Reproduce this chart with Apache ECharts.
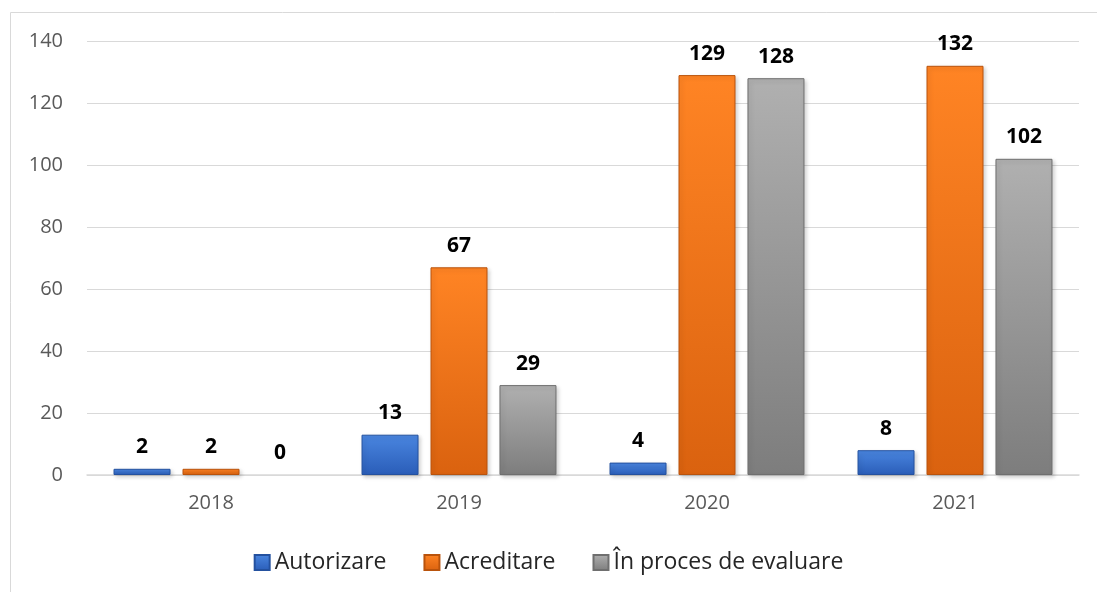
<!DOCTYPE html>
<html>
<head>
<meta charset="utf-8">
<script src="https://cdn.jsdelivr.net/npm/echarts@6/dist/echarts.min.js"></script>
<style>
  html, body { margin: 0; padding: 0; background: #fff; }
  #chart { width: 1097px; height: 592px; }
</style>
</head>
<body>
<div id="chart"></div>
<script>
const years = ['2018', '2019', '2020', '2021']
const autorizare = [2, 13, 4, 8]
const acreditare = [2, 67, 129, 132]
const inEvaluare = [0, 29, 128, 102]
const seriesNames = ['Autorizare', 'Acreditare', 'În proces de evaluare']

// bevel-like look: lighter top, darker bottom
function fill (top, bottom) {
  return new echarts.graphic.LinearGradient(0, 0, 0, 1, [
    { offset: 0, color: top },
    { offset: 1, color: bottom }
  ])
}
const palette = [
  { top: '#4a86e0', bottom: '#2a5db8', border: '#24519f', legend: '#2f66c4' },
  { top: '#ff8424', bottom: '#da620f', border: '#b9530c', legend: '#e86d15' },
  { top: '#b0b0b0', bottom: '#7d7d7d', border: '#6f6f6f', legend: '#9a9a9a' }
]

function makeSeries (name, data, i) {
  return {
    name: name,
    type: 'bar',
    // a zero bar is drawn flat in the original, no edge
    data: data.map(v => v === 0
      ? { value: v, itemStyle: { borderWidth: 0, shadowBlur: 0, shadowOffsetX: 0, shadowOffsetY: 0 } }
      : v),
    barWidth: 57,
    barGap: '21%',
    itemStyle: {
      color: fill(palette[i].top, palette[i].bottom),
      borderColor: palette[i].border,
      borderWidth: 1,
      shadowColor: 'rgba(0,0,0,0.18)',
      shadowBlur: 4,
      shadowOffsetX: 2,
      shadowOffsetY: 2
    },
    label: {
      show: true,
      position: 'top',
      distance: 11,
      color: '#000',
      fontWeight: 'bold',
      fontSize: 21,
      fontFamily: 'Open Sans'
    }
  }
}

const chart = echarts.init(document.getElementById('chart'))
const option = {
  animation: false,
  color: palette.map(p => p.legend),
  graphic: [
    {
      type: 'rect',
      shape: { x: 10.5, y: 12.5, width: 1200, height: 700 },
      style: { fill: 'none', stroke: '#d9d9d9', lineWidth: 1 },
      z: -1
    }
  ],
  grid: {
    left: 87,
    right: 18,
    top: 41,
    bottom: 117
  },
  legend: {
    top: 546,
    left: 'center',
    icon: 'rect',
    itemWidth: 15,
    itemHeight: 15,
    itemGap: 37,
    textStyle: { fontSize: 23, color: '#262626', fontFamily: 'Open Sans' },
    data: seriesNames
  },
  xAxis: {
    type: 'category',
    data: years,
    axisTick: { show: false },
    axisLine: { lineStyle: { color: '#d9d9d9', width: 1.5 } },
    axisLabel: { color: '#595959', fontSize: 20, margin: 18, fontFamily: 'Open Sans' }
  },
  yAxis: {
    type: 'value',
    min: 0,
    max: 140,
    interval: 20,
    axisLine: { show: false },
    axisTick: { show: false },
    splitLine: { lineStyle: { color: '#d9d9d9', width: 1 } },
    axisLabel: { color: '#595959', fontSize: 20, margin: 24, fontFamily: 'Open Sans' }
  },
  series: [
    makeSeries(seriesNames[0], autorizare, 0),
    makeSeries(seriesNames[1], acreditare, 1),
    makeSeries(seriesNames[2], inEvaluare, 2)
  ]
}
chart.setOption(option)
</script>
</body>
</html>
